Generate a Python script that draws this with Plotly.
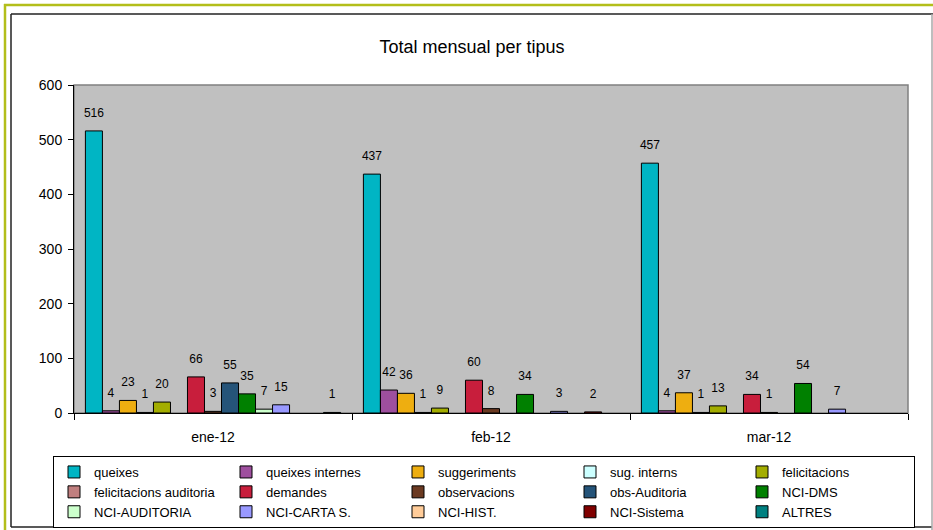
import plotly.graph_objects as go

# Months shown on the category axis
months = ["ene-12", "feb-12", "mar-12"]

# Monthly totals per type (None = no entry that month)
queixes = [516, 437, 457]
queixes_internes = [4, 42, 4]
suggeriments = [23, 36, 37]
sug_interns = [1, 1, 1]
felicitacions = [20, 9, 13]
felicitacions_auditoria = [None, None, None]
demandes = [66, 60, 34]
observacions = [3, 8, 1]
obs_auditoria = [55, None, None]
nci_dms = [35, 34, 54]
nci_auditoria = [7, None, None]
nci_carta_s = [15, 3, 7]
nci_hist = [None, None, None]
nci_sistema = [None, 2, None]
altres = [1, None, None]

series_names = [
    "queixes", "queixes internes", "suggeriments", "sug. interns", "felicitacions",
    "felicitacions auditoria", "demandes", "observacions", "obs-Auditoria", "NCI-DMS",
    "NCI-AUDITORIA", "NCI-CARTA S.", "NCI-HIST.", "NCI-Sistema", "ALTRES",
]
series_values = [
    queixes, queixes_internes, suggeriments, sug_interns, felicitacions,
    felicitacions_auditoria, demandes, observacions, obs_auditoria, nci_dms,
    nci_auditoria, nci_carta_s, nci_hist, nci_sistema, altres,
]
series_colors = [
    "#00B5C4", "#9E4F9E", "#EEAE10", "#CCFFFF", "#A3AD00",
    "#C07F7F", "#C81E3C", "#6B3A22", "#255479", "#008000",
    "#CCFFCC", "#9999FF", "#FFCC99", "#800000", "#008080",
]

FONT = "Arial, 'Liberation Sans', sans-serif"
W, H = 933, 530
ML, MR, MT, MB = 74, 25, 85, 117
PW, PH = W - ML - MR, H - MT - MB
GAP = 0.082


def px_x(px):
    return (px - ML) / PW


def px_y(py):
    return (H - MB - py) / PH


fig = go.Figure()

for name, vals, col in zip(series_names, series_values, series_colors):
    fig.add_trace(go.Bar(
        x=months, y=vals, name=name,
        marker=dict(color=col, line=dict(color="#000000", width=1)),
        hoverinfo="skip",
    ))

# value labels, grouped the same way as the bars
for name, vals in zip(series_names, series_values):
    fig.add_trace(go.Scatter(
        x=months, y=vals, mode="markers+text",
        text=[("" if v is None else str(v)) for v in vals],
        textposition="top center",
        textfont=dict(family=FONT, size=12, color="#000000"),
        marker=dict(size=16, color="rgba(0,0,0,0)"),
        showlegend=False, hoverinfo="skip", cliponaxis=False,
    ))

shapes = [
    # plot-area frame
    dict(type="rect", xref="paper", yref="paper", x0=0, x1=1, y0=0, y1=1,
         line=dict(color="#808080", width=1.5), layer="below"),
    # outer olive page border
    dict(type="line", xref="paper", yref="paper", x0=px_x(4), x1=px_x(940),
         y0=px_y(5), y1=px_y(5), line=dict(color="#B3BE1A", width=2.5)),
    dict(type="line", xref="paper", yref="paper", x0=px_x(5), x1=px_x(5),
         y0=px_y(4), y1=px_y(540), line=dict(color="#B3BE1A", width=2.5)),
    # chart frame
    dict(type="line", xref="paper", yref="paper", x0=px_x(11), x1=px_x(940),
         y0=px_y(14), y1=px_y(14), line=dict(color="#222222", width=1.5)),
    dict(type="line", xref="paper", yref="paper", x0=px_x(11), x1=px_x(11),
         y0=px_y(14), y1=px_y(527), line=dict(color="#222222", width=1.5)),
    dict(type="line", xref="paper", yref="paper", x0=px_x(11), x1=px_x(932),
         y0=px_y(527), y1=px_y(527), line=dict(color="#222222", width=1.5)),
    dict(type="line", xref="paper", yref="paper", x0=px_x(932), x1=px_x(932),
         y0=px_y(14), y1=px_y(530), line=dict(color="#A8A8A8", width=1.5)),
]

fig.update_layout(
    width=W, height=H,
    margin=dict(l=ML, r=MR, t=MT, b=MB, pad=0, autoexpand=False),
    paper_bgcolor="#FFFFFF", plot_bgcolor="#C0C0C0",
    barmode="group", bargap=GAP, bargroupgap=0,
    scattermode="group", scattergap=GAP,
    font=dict(family=FONT, size=13, color="#000000"),
    title=dict(text="Total mensual per tipus", x=472 / W, xanchor="center",
               y=1 - 47 / H, yanchor="middle", xref="container", yref="container",
               font=dict(family=FONT, size=18, color="#000000")),
    xaxis=dict(type="category", categoryorder="array", categoryarray=months,
               showgrid=False, zeroline=False, showline=True, linecolor="#000000",
               linewidth=1, ticks="outside", tickson="boundaries", ticklen=6,
               tickcolor="#000000", tickfont=dict(family=FONT, size=14),
               ticklabelstandoff=11),
    yaxis=dict(range=[0, 600], dtick=100, showgrid=False, zeroline=False,
               showline=True, linecolor="#000000", linewidth=1, ticks="outside",
               ticklen=5, tickcolor="#000000", tickfont=dict(family=FONT, size=14),
               ticklabelstandoff=3),
    legend=dict(orientation="h", x=px_x(53), xanchor="left", y=px_y(456), yanchor="top",
                bgcolor="#FFFFFF", bordercolor="#000000", borderwidth=1,
                font=dict(family=FONT, size=13), entrywidth=127, entrywidthmode="pixels",
                traceorder="normal", tracegroupgap=0, itemclick=False),
    shapes=shapes,
    showlegend=True,
)

fig.write_html("out.html")
